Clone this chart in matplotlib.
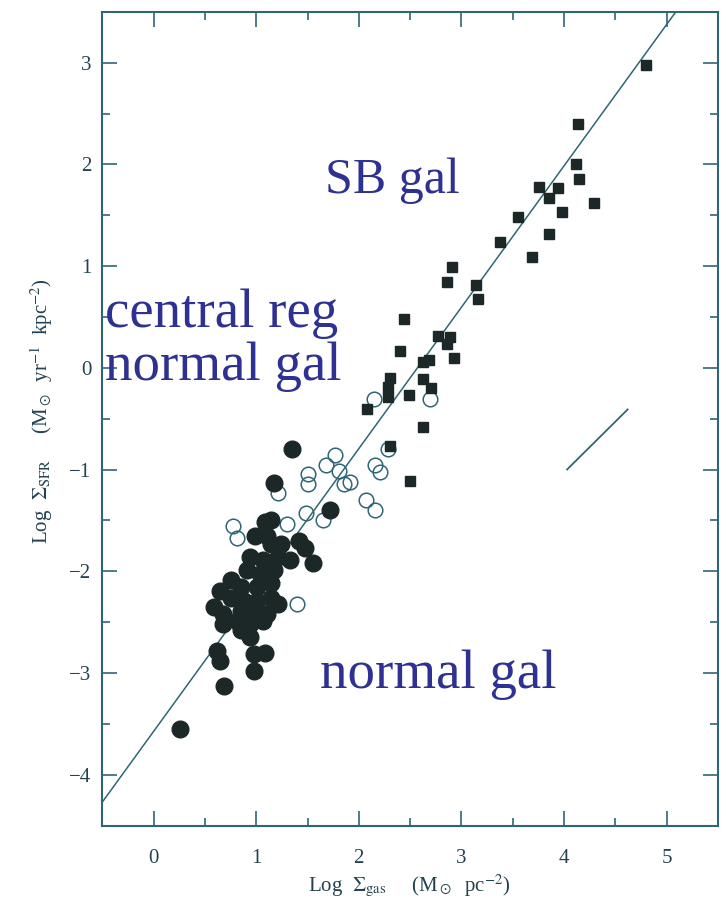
import numpy as np
import matplotlib
matplotlib.use("Agg")
import matplotlib.pyplot as plt
from matplotlib.ticker import MultipleLocator

# starburst galaxies (filled squares)
sb_x = [4.80, 4.14, 4.12, 4.15, 3.76, 3.94, 3.85, 4.29, 3.98, 3.55, 3.38, 3.85,
        3.69, 2.91, 2.86, 3.14, 3.16, 2.44, 2.77, 2.89, 2.86, 2.40, 2.93, 2.63,
        2.68, 2.30, 2.63, 2.28, 2.70, 2.49, 2.28, 2.08, 2.63, 2.30, 2.50]
sb_y = [2.98, 2.40, 2.00, 1.86, 1.78, 1.77, 1.67, 1.62, 1.53, 1.48, 1.24, 1.32,
        1.09, 0.99, 0.84, 0.81, 0.68, 0.48, 0.31, 0.30, 0.23, 0.17, 0.10, 0.06,
        0.08, -0.10, -0.11, -0.19, -0.20, -0.27, -0.29, -0.41, -0.58, -0.77, -1.11]

# central regions of normal galaxies (open circles)
cen_x = [2.15, 2.69, 2.28, 1.77, 1.68, 2.16, 1.50, 1.81, 2.21, 1.50, 1.86,
         1.91, 2.07, 2.16, 1.21, 1.49, 1.65, 1.30, 0.77, 0.81, 1.40]
cen_y = [-0.31, -0.31, -0.80, -0.86, -0.96, -0.96, -1.04, -1.01, -1.02, -1.14, -1.14,
         -1.12, -1.30, -1.40, -1.23, -1.43, -1.50, -1.54, -1.56, -1.67, -2.32]

# normal galaxies (filled circles)
ng_x = [1.35, 1.17, 1.72, 1.09, 1.14, 0.99, 1.11, 1.42, 1.48, 1.24, 1.14,
        1.33, 1.55, 0.94, 1.07, 1.21, 0.91, 1.04, 1.17, 0.75, 0.85, 1.01, 1.14,
        0.65, 0.75, 0.88, 1.01, 1.14, 1.21, 0.59, 0.68, 0.85, 0.98, 1.11,
        0.68, 0.81, 0.94, 1.07, 0.85, 0.94, 0.62, 0.65, 0.98, 1.09, 0.98,
        0.69, 0.26]
ng_y = [-0.80, -1.13, -1.40, -1.52, -1.50, -1.65, -1.65, -1.70, -1.77, -1.73, -1.73,
        -1.89, -1.92, -1.86, -1.89, -1.86, -1.99, -2.03, -1.99, -2.09, -2.16, -2.16, -2.12,
        -2.19, -2.26, -2.29, -2.29, -2.26, -2.32, -2.35, -2.42, -2.39, -2.39, -2.42,
        -2.52, -2.49, -2.52, -2.49, -2.58, -2.65, -2.78, -2.88, -2.81, -2.80, -2.98,
        -3.13, -3.55]

# fit line and slope-1 reference segment
fit_x = [-0.5, 5.09]
fit_y = [-4.27, 3.50]
ref_x = [4.03, 4.62]
ref_y = [-1.00, -0.41]

ink = "#1c2727"
frame = "#2f6676"
blue = "#2e3192"
lab = "#22434f"

plt.rcParams["mathtext.fontset"] = "stix"

fig = plt.figure(figsize=(7.28, 9.09), dpi=100)
ax = fig.add_axes([102.3 / 728, 1 - 825.5 / 909, (717.9 - 102.3) / 728, (825.5 - 11.8) / 909])

ax.plot(fit_x, fit_y, color=frame, lw=1.1, zorder=1)
ax.plot(ref_x, ref_y, color=frame, lw=1.3, zorder=1)

ax.plot(cen_x, cen_y, "o", ms=10.5, mfc="none", mec=frame, mew=1.1, ls="none", zorder=2)
ax.plot(ng_x, ng_y, "o", ms=12, mfc=ink, mec=ink, ls="none", zorder=3)
ax.plot(sb_x, sb_y, "s", ms=7.5, mfc=ink, mec=ink, ls="none", zorder=3)

ax.set_xlim(-0.5, 5.5)
ax.set_ylim(-4.5, 3.5)
ax.xaxis.set_major_locator(MultipleLocator(1))
ax.xaxis.set_minor_locator(MultipleLocator(0.5))
ax.yaxis.set_major_locator(MultipleLocator(1))
ax.yaxis.set_minor_locator(MultipleLocator(0.5))
ax.tick_params(which="both", direction="in", top=True, right=True, color=frame,
               width=1.2, labelcolor=lab, labelsize=15,
               labelfontfamily="Liberation Serif")
ax.tick_params(which="major", length=11)
ax.tick_params(which="minor", length=6)
ax.tick_params(axis="x", which="major", pad=17)
ax.tick_params(axis="y", which="major", pad=8)
for s in ax.spines.values():
    s.set_color(frame)
    s.set_linewidth(1.5)

fig.text(409 / 728, 1 - 886 / 909, r"Log  $\Sigma_{\rm gas}$     (M$_\odot$  pc$^{-2}$)",
         ha="center", va="center", fontsize=15, color=lab, family="Liberation Serif")
fig.text(42 / 728, 1 - 411 / 909,
         r"Log  $\Sigma_{\rm SFR}$     (M$_\odot$  yr$^{-1}$  kpc$^{-2}$)",
         ha="center", va="center", rotation=90, fontsize=15, color=lab,
         family="Liberation Serif")

fig.text(325 / 728, 1 - 193 / 909, "SB gal", fontsize=36, color=blue,
         family="Liberation Serif", va="baseline")
fig.text(105 / 728, 1 - 327 / 909, "central reg", fontsize=39.5, color=blue,
         family="Liberation Serif", va="baseline")
fig.text(105 / 728, 1 - 380 / 909, "normal gal", fontsize=39.5, color=blue,
         family="Liberation Serif", va="baseline")
fig.text(320 / 728, 1 - 688 / 909, "normal gal", fontsize=39.5, color=blue,
         family="Liberation Serif", va="baseline")

fig.savefig("out.png", dpi=100)
